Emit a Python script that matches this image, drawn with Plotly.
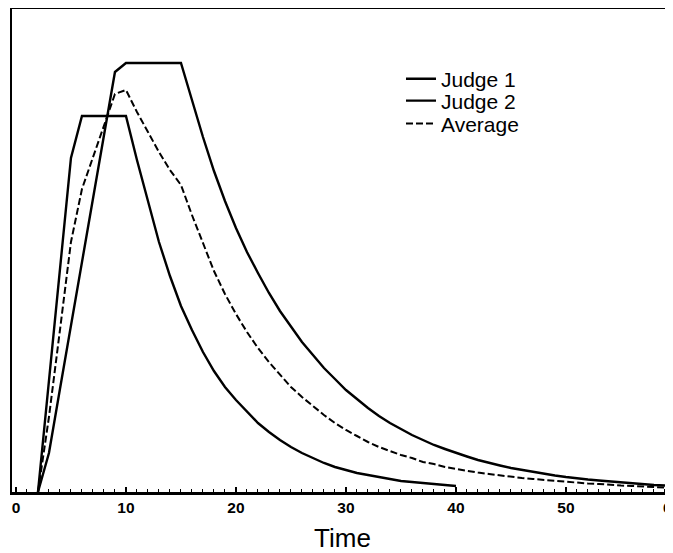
import plotly.graph_objects as go

# Time axis (minutes)
time_j1 = list(range(2, 41))
time_j2 = list(range(2, 61))
time_avg = list(range(2, 61))

judge1 = [0, 110, 222, 334, 376, 376, 376, 376, 376, 332, 290, 250, 216, 186,
          162, 140, 121, 105, 92, 80, 69, 60, 52, 45, 39, 34, 29, 25, 22, 19,
          17, 15, 13, 11, 10, 9, 8, 7, 6]

judge2 = [0, 39, 103, 166, 230, 293, 357, 420, 429, 429, 429, 429, 429, 429,
          392, 355, 321, 291, 264, 240, 219, 199, 181, 165, 150, 137, 124, 113,
          102, 93, 84, 76, 69, 63, 57, 52, 47, 43, 39, 35.5, 32, 29, 26.5, 24,
          22, 20, 18, 16.5, 15, 13.5, 12.5, 11.5, 10.5, 9.5, 8.5, 8, 7, 6.5, 6]

average = [0, 75, 162, 250, 303, 335, 366, 398, 402, 380, 360, 340, 322, 307,
           277, 248, 221, 198, 178, 160, 144, 130, 117, 105, 95, 86, 77, 69,
           62, 56, 50, 45, 41, 37, 34, 30, 28, 25, 23, 21, 19.5, 18, 16.5, 15,
           14, 13, 12, 11, 10, 9, 8.5, 8, 7, 6.5, 6, 5.5, 5, 4.5, 4]

x_ticks = [0, 10, 20, 30, 40, 50]
x_ticklabels = ["0", "10", "20", "30", "40", "50"]

FONT = "Liberation Sans, Arial, Helvetica, sans-serif"

fig = go.Figure()
fig.add_trace(go.Scatter(x=time_j1, y=judge1, mode="lines", name="Judge 1",
                         line=dict(color="black", width=2.4), legend="legend"))
fig.add_trace(go.Scatter(x=time_j2, y=judge2, mode="lines", name="Judge 2",
                         line=dict(color="black", width=2.4), legend="legend2"))
fig.add_trace(go.Scatter(x=time_avg, y=average, mode="lines", name="Average",
                         line=dict(color="black", width=2, dash="7px,3px"),
                         legend="legend3"))

leg_common = dict(font=dict(family=FONT, size=21, color="black"),
                  bgcolor="rgba(0,0,0,0)", borderwidth=0,
                  xanchor="left", yanchor="middle", x=0.5885)

fig.update_layout(
    width=665, height=545,
    margin=dict(l=4, r=0, t=1, b=61),
    paper_bgcolor="white", plot_bgcolor="white",
    showlegend=True,
    legend=dict(**leg_common, y=0.855),
    legend2=dict(**leg_common, y=0.8095),
    legend3=dict(**leg_common, y=0.762),
    xaxis=dict(
        range=[-0.36, 59.73], showgrid=False, zeroline=False,
        showline=True, linecolor="black", linewidth=2.5, mirror=True,
        ticks="inside", ticklen=5, tickwidth=1.5, tickcolor="black",
        tickvals=x_ticks, ticktext=x_ticklabels,
        tickfont=dict(family=FONT, size=15.5, color="black", weight="bold"),
        minor=dict(ticks="inside", ticklen=3, tickwidth=1.2, tickcolor="black", dtick=1, showgrid=False),
        title=dict(text="Time", font=dict(family=FONT, size=26, color="black"), standoff=14),
        automargin=False,
    ),
    yaxis=dict(
        range=[0, 483], showgrid=False, zeroline=False,
        showline=True, linecolor="black", linewidth=2, mirror=False,
        showticklabels=False, ticks="", automargin=False,
    ),
    annotations=[dict(text="60", xref="paper", yref="paper", x=0.998, y=0,
                      xanchor="center", yanchor="top", yshift=-5, showarrow=False,
                      font=dict(family=FONT, size=15.5, color="black", weight="bold"))],
)

fig.write_html("out.html")
